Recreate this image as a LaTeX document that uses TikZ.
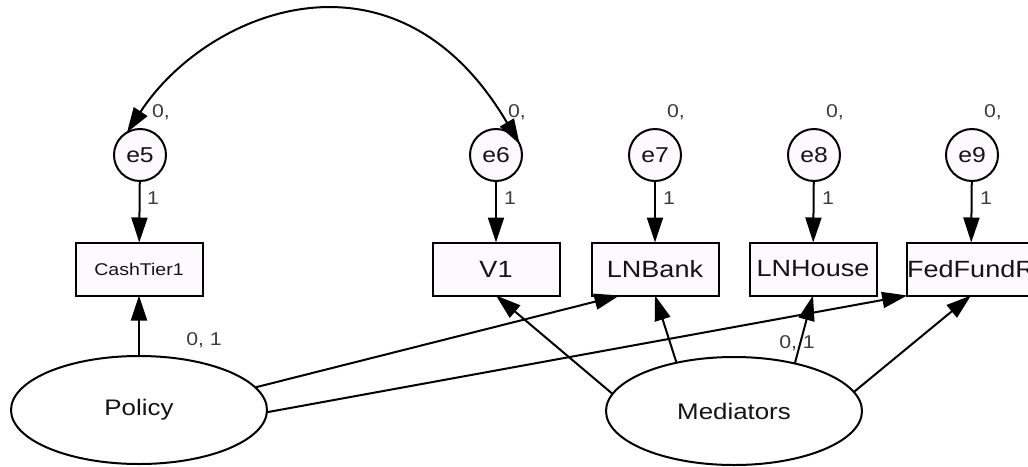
\documentclass[tikz,border=0pt]{standalone}
\usepackage{fontspec}
\setmainfont{Liberation Sans}[FakeStretch=1.15]
\usetikzlibrary{arrows.meta,shapes.geometric}
\definecolor{nodefill}{RGB}{253,250,253}
\definecolor{lblgray}{RGB}{60,60,60}
\definecolor{txt}{RGB}{20,20,20}
\begin{document}
\begin{tikzpicture}[x=1pt,y=-1pt,
  every node/.style={inner sep=0pt, outer sep=0pt},
  err/.style={circle, draw, line width=2pt, minimum size=52pt, fill=nodefill, text=txt, font=\fontsize{21.5}{22}\selectfont},
  obs/.style={rectangle, draw, line width=2pt, minimum width=127pt, minimum height=53pt, fill=nodefill, text=txt, font=\fontsize{23.5}{24}\selectfont},
  lat/.style={ellipse, draw, line width=2pt, minimum width=256pt, minimum height=108pt, fill=white, text=txt, font=\fontsize{22.5}{24}\selectfont},
  lbl/.style={anchor=west, text=lblgray, font=\fontsize{18.5}{19}\selectfont},
  clbl/.style={text=lblgray, font=\fontsize{18.5}{19}\selectfont},
  arr/.style={line width=2pt, -{Triangle[length=25pt,width=16pt]}},
  darr/.style={line width=2pt, {Triangle[length=25pt,width=16pt]}-{Triangle[length=25pt,width=16pt]}},
]
\useasboundingbox (0,0) rectangle (1028,466);
\clip (0,0) rectangle (1028,466);

% error terms
\node[err] (e5) at (140,155) {e5};
\node[err] (e6) at (496,155) {e6};
\node[err] (e7) at (655,155) {e7};
\node[err] (e8) at (814,155) {e8};
\node[err] (e9) at (972,155) {e9};

% labels above error terms
\node[lbl] (l5) at (152,112) {0,};
\node[lbl] (l6) at (508,112) {0,};
\node[lbl] (l7) at (667,112) {0,};
\node[lbl] (l8) at (826,112) {0,};
\node[lbl] (l9) at (984,112) {0,};

% observed variables
\node[obs, font=\fontsize{17}{18}\selectfont] (cash) at (139,269) {CashTier1};
\node[obs] (v1) at (496,269) {V1};
\node[obs] (bank) at (655,269) {LNBank};
\node[obs] (house) at (813,269) {LNHouse};
\node[obs] (fed) at (971,269) {FedFundR};

% latent variables
\node[lat] (policy) at (139,410) {Policy};
\node[lat] (med) at (734,411) {Mediators};

% labels near latent variables
\node[clbl] (pl) at (204,340) {0, 1};
\node[clbl] (ml) at (797,343) {0, 1};

% error paths
\draw[arr] (e5) -- (cash);
\draw[arr] (e6) -- (v1);
\draw[arr] (e7) -- (bank);
\draw[arr] (e8) -- (house);
\draw[arr] (e9) -- (fed);

% "1" labels
\node[lbl] (o5) at (147,198) {1};
\node[lbl] (o6) at (504,198) {1};
\node[lbl] (o7) at (663,198) {1};
\node[lbl] (o8) at (822,198) {1};
\node[lbl] (o9) at (980,198) {1};

% covariance
\draw[darr] (e5.120) .. controls (207,10) and (396,-66) .. (e6.25);

% structural paths
\draw[arr] (policy) -- (cash);
\draw[arr] (policy.11) -- ([xshift=28pt]bank.south west);
\draw[arr] (policy.-1) -- (fed.south west);
\draw[arr] (med.172) -- (v1.south);
\draw[arr] (med.140) -- (bank.south);
\draw[arr] (med.38) -- (house.south);
\draw[arr] (med.9) -- (fed.south);
\end{tikzpicture}
\end{document}
